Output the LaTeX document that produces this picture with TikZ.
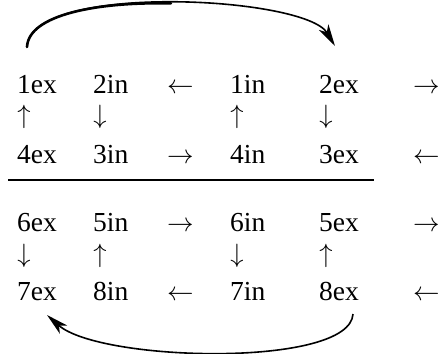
\documentclass[tikz,border=0pt]{standalone}
\usepackage{graphicx}
\usepackage{fontspec}
\setmainfont{Liberation Serif}
\usetikzlibrary{arrows.meta}
\newcommand{\myarr}[1]{\scalebox{2.65}{\normalsize$#1$}}
\begin{document}
\begin{tikzpicture}[x=1pt,y=-1pt,
  lbl/.style={anchor=base west,inner sep=0pt,font=\fontsize{27.5}{30}\selectfont},
  varr/.style={anchor=base,inner sep=0pt,font=\fontsize{27.5}{30}\selectfont},
  bendarrow/.style={line width=1.6pt,-{Stealth[length=22pt,width=11pt,inset=6pt]}}]
\useasboundingbox (0,0) rectangle (440,354);
% row 1
\node[lbl] (a1) at (17,93) {1ex};
\node[lbl] (a2) at (93,93) {2in};
\node[lbl] (a3) at (167,93) {\myarr{\leftarrow}};
\node[lbl] (a4) at (230,93) {1in};
\node[lbl] (a5) at (319,93) {2ex};
\node[lbl] (a6) at (413,93) {\myarr{\rightarrow}};
% row 2
\node[varr] (b1) at (24,123) {\myarr{\uparrow}};
\node[varr] (b2) at (100,123) {\myarr{\downarrow}};
\node[varr] (b3) at (237,123) {\myarr{\uparrow}};
\node[varr] (b4) at (326,123) {\myarr{\downarrow}};
% row 3
\node[lbl] (c1) at (17,163) {4ex};
\node[lbl] (c2) at (93,163) {3in};
\node[lbl] (c3) at (167,163) {\myarr{\rightarrow}};
\node[lbl] (c4) at (230,163) {4in};
\node[lbl] (c5) at (319,163) {3ex};
\node[lbl] (c6) at (413,163) {\myarr{\leftarrow}};
% rule
\coordinate (r1) at (8,180);
\coordinate (r2) at (374,180);
\draw[line width=1.3pt] (r1) -- (r2);
% row 4
\node[lbl] (d1) at (17,231) {6ex};
\node[lbl] (d2) at (93,231) {5in};
\node[lbl] (d3) at (167,231) {\myarr{\rightarrow}};
\node[lbl] (d4) at (230,231) {6in};
\node[lbl] (d5) at (319,231) {5ex};
\node[lbl] (d6) at (413,231) {\myarr{\rightarrow}};
% row 5
\node[varr] (e1) at (24,262) {\myarr{\downarrow}};
\node[varr] (e2) at (100,262) {\myarr{\uparrow}};
\node[varr] (e3) at (237,262) {\myarr{\downarrow}};
\node[varr] (e4) at (326,262) {\myarr{\uparrow}};
% row 6
\node[lbl] (f1) at (17,300) {7ex};
\node[lbl] (f2) at (93,300) {8in};
\node[lbl] (f3) at (167,300) {\myarr{\leftarrow}};
\node[lbl] (f4) at (230,300) {7in};
\node[lbl] (f5) at (319,300) {8ex};
\node[lbl] (f6) at (413,300) {\myarr{\leftarrow}};
% curved arrows
\coordinate (ts) at ([shift={(10,-46)}]a1.base west);
\coordinate (te) at ([shift={(16,-47)}]a5.base west);
\draw[bendarrow] (ts) .. controls (30,-18) and (305,-4) .. (te);
\draw[line width=2.6pt,line cap=round] (ts) .. controls (28.5,14.5) and (98,1.75) .. (170.9,3.4);
\coordinate (bs) at ([shift={(34,14)}]f5.base west);
\coordinate (be) at ([shift={(30,15)}]f1.base west);
\draw[bendarrow] (bs) .. controls (350,368) and (100,362) .. (be);
\end{tikzpicture}
\end{document}
